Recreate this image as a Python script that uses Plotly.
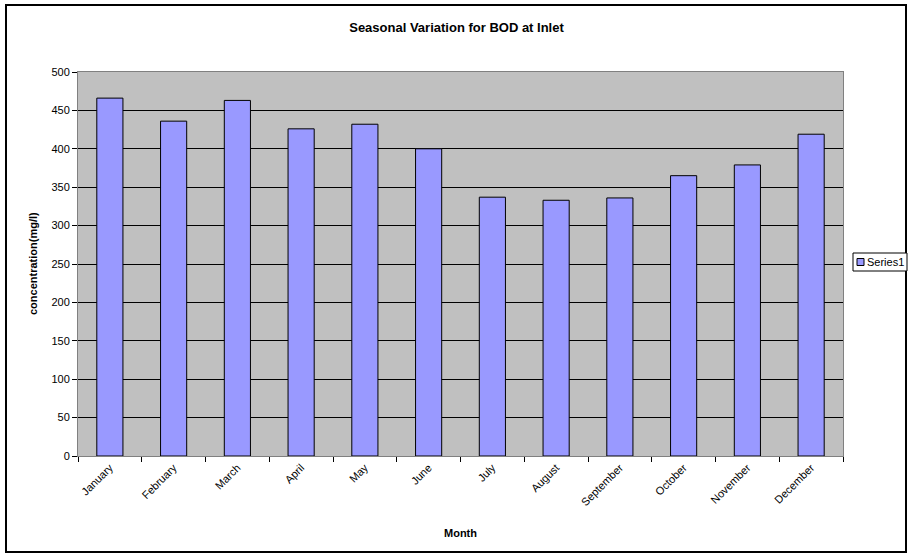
import plotly.graph_objects as go

# Monthly BOD concentration at the inlet (mg/l)
months = ["January", "February", "March", "April", "May", "June",
          "July", "August", "September", "October", "November", "December"]
bod_inlet = [466, 436, 463, 426, 432, 400, 337, 333, 336, 365, 379, 419]
y_ticks = [0, 50, 100, 150, 200, 250, 300, 350, 400, 450, 500]
series_name = "Series1"

FONT = "Liberation Sans, Arial, sans-serif"
W, H = 913, 558
ML, MR, MT, MB = 78, 70, 72, 102
PW, PH = W - ML - MR, H - MT - MB


def px_x(x):
    return (x - ML) / PW


def px_y(y):
    return (H - MB - y) / PH


fig = go.Figure()
fig.add_trace(go.Bar(
    x=months, y=bod_inlet, name=series_name,
    marker=dict(color="#9999FF", line=dict(color="#000000", width=1)),
    width=0.41, showlegend=False,
))

fig.update_layout(
    width=W, height=H,
    margin=dict(l=ML, r=MR, t=MT, b=MB),
    paper_bgcolor="#FFFFFF",
    plot_bgcolor="#C0C0C0",
    font=dict(family=FONT, size=11, color="#000000"),
    title=dict(text="<b>Seasonal Variation for BOD at Inlet</b>",
               x=0.5, xanchor="center", y=1 - 27 / H, yanchor="middle",
               font=dict(family=FONT, size=13, color="#000000")),
    xaxis=dict(
        tickangle=-45, tickson="boundaries", ticks="outside", ticklen=5,
        tickcolor="#000000", showline=True, mirror=True, linecolor="#808080",
        linewidth=1, showgrid=False, tickfont=dict(family=FONT, size=11),
    ),
    yaxis=dict(
        range=[0, 500], tickvals=y_ticks, ticks="outside", ticklen=5,
        tickcolor="#000000", showline=True, mirror=True, linecolor="#808080",
        linewidth=1, showgrid=True, gridcolor="#000000", gridwidth=1,
        zeroline=False, tickfont=dict(family=FONT, size=11),
    ),
    bargap=0.59,
)

# axis titles
fig.add_annotation(text="<b>Month</b>", xref="paper", yref="paper",
                   x=0.5, y=px_y(533), xanchor="center", yanchor="middle",
                   showarrow=False, font=dict(family=FONT, size=11))
fig.add_annotation(text="<b>concentration(mg/l)</b>", xref="paper", yref="paper",
                   x=px_x(33), y=0.5, xanchor="center", yanchor="middle",
                   textangle=-90, showarrow=False, font=dict(family=FONT, size=11))

# outer chart frame
fig.add_shape(type="rect", xref="paper", yref="paper",
              x0=px_x(6), x1=px_x(906), y0=px_y(552), y1=px_y(5),
              line=dict(color="#000000", width=2), fillcolor="rgba(0,0,0,0)")

# legend box
lx0, lx1, ly0, ly1 = 853, 907, 253, 271
fig.add_shape(type="rect", xref="paper", yref="paper",
              x0=px_x(lx0), x1=px_x(lx1), y0=px_y(ly1), y1=px_y(ly0),
              line=dict(color="#000000", width=1), fillcolor="#FFFFFF")
fig.add_shape(type="rect", xref="paper", yref="paper",
              x0=px_x(857), x1=px_x(864), y0=px_y(265.5), y1=px_y(258.5),
              line=dict(color="#000000", width=1), fillcolor="#9999FF")
fig.add_annotation(text=series_name, xref="paper", yref="paper",
                   x=px_x(865), y=px_y(262), xanchor="left", yanchor="middle",
                   showarrow=False, font=dict(family=FONT, size=11))

fig.write_html("out.html")
